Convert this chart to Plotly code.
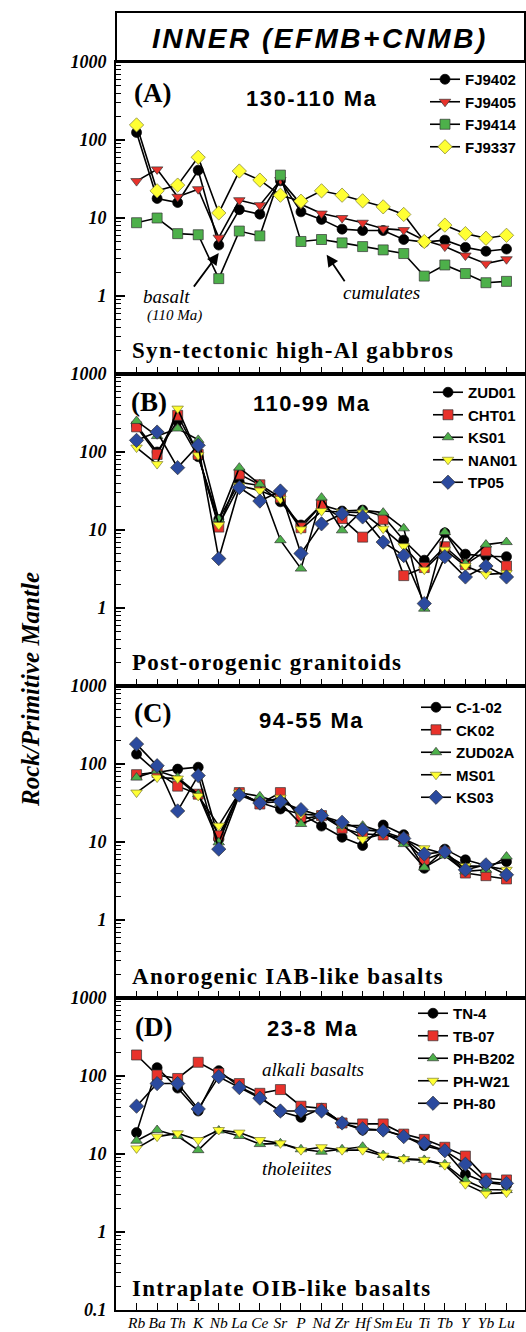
import plotly.graph_objects as go
from plotly.subplots import make_subplots

elements = ["Rb", "Ba", "Th", "K", "Nb", "La", "Ce", "Sr", "P", "Nd",
            "Zr", "Hf", "Sm", "Eu", "Ti", "Tb", "Y", "Yb", "Lu"]

# Panel A: 130-110 Ma, syn-tectonic high-Al gabbros
A_names = ["FJ9402", "FJ9405", "FJ9414", "FJ9337"]
FJ9402 = [125, 17.8, 15.8, 41, 4.5, 12.8, 11.2, 30, 12, 9.6, 7.2, 6.9, 6.9, 5.3, 4.9, 5.2, 4.2, 3.75, 4.0]
FJ9405 = [29.7, 42, 18.7, 23.4, 5.6, 16.9, 14.6, 30.6, 15, 11.4, 10, 8.7, 7.3, 7.0, 5.2, 4.3, 3.3, 2.6, 2.96]
FJ9414 = [8.7, 10, 6.3, 6.1, 1.67, 6.8, 5.9, 35.5, 5.0, 5.3, 4.8, 4.3, 3.9, 3.5, 1.8, 2.5, 1.94, 1.48, 1.54]
FJ9337 = [156, 22.3, 26.4, 60, 11.6, 40, 30.6, 19.6, 16.4, 22.3, 19.6, 16.6, 13.9, 11.1, 5.0, 8.1, 6.3, 5.5, 6.0]

# Panel B: 110-99 Ma, post-orogenic granitoids
B_names = ["ZUD01", "CHT01", "KS01", "NAN01", "TP05"]
ZUD01 = [220, 100, 250, 87, 13.7, 41, 37, 23, 11.6, 21, 17.5, 18, 15, 7.4, 4.1, 9.2, 4.9, 4.6, 4.55]
CHT01 = [210, 93, 295, 93, 10.9, 52, 38, 26, 10.7, 21, 14, 8.1, 13.7, 2.6, 3.3, 6.1, 3.6, 5.4, 3.45]
KS01 = [250, 160, 200, 143, 13.7, 63, 38.5, 7.4, 3.2, 26, 9.9, 18, 16.7, 10.5, 0.98, 9.4, 3.7, 6.5, 7.0]
NAN01 = [114, 70, 360, 91, 11.6, 37, 32, 25, 10.2, 17.5, 17, 16.7, 10.4, 6.2, 3.1, 5.6, 3.45, 2.7, 2.8]
TP05 = [141, 180, 63, 122, 4.3, 35, 23.5, 31.6, 5.0, 12, 16.2, 14.7, 7.0, 4.7, 1.14, 4.55, 2.5, 3.45, 2.5]

# Panel C: 94-55 Ma, anorogenic IAB-like basalts
C_names = ["C-1-02", "CK02", "ZUD02A", "MS01", "KS03"]
C102 = [134, 78, 86, 91, 10.9, 42, 32, 26.5, 22.8, 16, 11.5, 9.0, 16.5, 12.4, 4.6, 8.1, 5.9, 5.0, 5.6]
CK02 = [73, 78, 52, 41, 12, 43, 30.7, 43, 19.7, 21.8, 15, 12.7, 12.3, 10.9, 5.9, 7.4, 4.0, 3.7, 3.36]
ZUD02A = [67, 82, 67, 41, 9.9, 43, 38.5, 31.6, 17, 21.8, 16.2, 16.2, 13.3, 9.4, 4.7, 6.7, 4.2, 4.4, 6.5]
MS01 = [43, 67, 65, 39, 16.2, 43, 31.6, 37, 22.8, 21.8, 16.2, 10.9, 12.7, 10.9, 8.3, 7.0, 4.9, 4.9, 4.4]
KS03 = [180, 95, 25, 71, 8.1, 40, 31.6, 32.9, 26, 21.8, 17.9, 14.4, 13.6, 11.1, 7.0, 7.5, 4.4, 5.1, 3.8]

# Panel D: 23-8 Ma, intraplate OIB-like basalts
D_names = ["TN-4", "TB-07", "PH-B202", "PH-W21", "PH-80"]
TN4 = [18.8, 128, 70, 35.6, 117, 73, 54, 35, 29.5, 38.5, 25, 20.3, 20.3, 17, 12.8, 11, 5.5, 4.3, 4.0]
TB07 = [186, 103, 93, 150, 108, 80, 60, 67, 41, 38.5, 25, 24.3, 24.3, 18, 15.4, 12.2, 9.4, 4.9, 4.65]
PHB202 = [14.8, 20.3, 17, 11.2, 20, 17, 13.4, 13.7, 11.5, 10.7, 11.5, 12.4, 9.7, 8.6, 8.4, 7.4, 4.6, 3.5, 3.45]
PHW21 = [11.8, 16.7, 18.4, 15.1, 20.3, 18.8, 15.1, 13.7, 11.2, 12.2, 11.2, 11.2, 9.5, 8.6, 8.4, 7.2, 4.1, 3.1, 3.2]
PH80 = [41, 80, 80, 37.8, 98, 71, 52, 35.6, 35.6, 35.6, 25, 21, 20.3, 16.7, 13.7, 11, 7.4, 4.4, 4.2]

panel_letters = ["(A)", "(B)", "(C)", "(D)"]
panel_ages = ["130-110 Ma", "110-99 Ma", "94-55 Ma", "23-8 Ma"]
panel_types = ["Syn-tectonic high-Al gabbros", "Post-orogenic granitoids",
               "Anorogenic IAB-like basalts", "Intraplate OIB-like basalts"]

BLACK = "#000000"
RED = "#E8322B"
GREEN = "#4DB04A"
YELLOW = "#FFFF33"
BLUE = "#2B4A9E"

styleA = [("circle", BLACK), ("triangle-down", RED), ("square", GREEN), ("diamond", YELLOW)]
styleBCD = [("circle", BLACK), ("square", RED), ("triangle-up", GREEN),
            ("triangle-down", YELLOW), ("diamond", BLUE)]

panels = [
    (A_names, [FJ9402, FJ9405, FJ9414, FJ9337], styleA),
    (B_names, [ZUD01, CHT01, KS01, NAN01, TP05], styleBCD),
    (C_names, [C102, CK02, ZUD02A, MS01, KS03], styleBCD),
    (D_names, [TN4, TB07, PHB202, PHW21, PH80], styleBCD),
]

W, H = 526, 1332
L, R, T, B = 116, 525, 62, 1310


def px(xp, yp):
    return (xp - L) / (R - L), (B - yp) / (B - T)


def spaced(text, sp):
    return f'<span style="letter-spacing:{sp}px">{text}</span>'


SERIF = "Liberation Serif, Times New Roman, serif"
SANS = "Liberation Sans, Arial, sans-serif"

fig = make_subplots(rows=4, cols=1, shared_xaxes=True, vertical_spacing=0)

legend_pos = [(425, 63), (428, 376), (416, 691), (413, 997)]

for i, (names, series, styles) in enumerate(panels):
    lg = "legend" if i == 0 else f"legend{i + 1}"
    for name, vals, (sym, col) in zip(names, series, styles):
        outline = "#000000" if col == BLACK else ("#7a7a30" if col == YELLOW else "#333333")
        fig.add_trace(go.Scatter(
            x=elements, y=vals, name=name, mode="lines+markers",
            line=dict(color="black", width=1.6),
            marker=dict(symbol=sym, color=col, size=10 if sym != "diamond" else 11,
                        line=dict(color=outline, width=0.7)),
            legend=lg,
        ), row=i + 1, col=1)
    lx, ly = px(*legend_pos[i])
    fig.update_layout({lg: dict(
        x=lx, y=ly, xanchor="left", yanchor="top", bgcolor="rgba(0,0,0,0)",
        font=dict(family=SANS, size=15, color="black", weight="bold"),
        tracegroupgap=0, itemwidth=30)})

minor_vals = [m * 10 ** e for e in (-1, 0, 1, 2) for m in range(2, 10)]
for i in range(4):
    tv = [1, 10, 100, 1000]
    tt = ["1", "10", "100", "1000"]
    if i == 3:
        tv = [0.1] + tv
        tt = ["0.1"] + tt
    fig.update_yaxes(
        type="log", range=[-1, 3], tickvals=tv, ticktext=tt,
        ticks="inside", ticklen=9, tickwidth=1.5, tickcolor="black",
        minor=dict(ticks="inside", ticklen=5, tickwidth=1, tickcolor="black",
                   tickvals=minor_vals, showgrid=False),
        showline=True, linewidth=2, linecolor="black", mirror=True,
        showgrid=False, zeroline=False, ticklabelstandoff=4,
        tickfont=dict(family=SERIF, size=18, color="black", style="italic", weight="bold"),
        row=i + 1, col=1)
    fig.update_xaxes(
        type="category", categoryorder="array", categoryarray=elements,
        range=[-1, 18.9], ticks="inside", ticklen=7, tickwidth=1.2, tickcolor="black",
        showline=True, linewidth=2, linecolor="black", mirror=True,
        showgrid=False, zeroline=False, tickangle=0, ticklabelstandoff=-3,
        showticklabels=(i == 3),
        tickfont=dict(family=SERIF, size=15.5, color="black", style="italic"),
        row=i + 1, col=1)

annotations = []
letter_pos = [(152, 93), (149, 402), (152, 713), (153, 1027)]
age_pos = [(311, 98), (311, 403), (311, 720), (312, 1028)]
type_y = [351, 662, 976, 1288]
for i in range(4):
    x, y = px(*letter_pos[i])
    annotations.append(dict(x=x, y=y, xref="paper", yref="paper", text=panel_letters[i],
                            xanchor="center", yanchor="middle", showarrow=False,
                            font=dict(family=SERIF, size=27, color="black", weight="bold")))
    x, y = px(*age_pos[i])
    annotations.append(dict(x=x, y=y, xref="paper", yref="paper", text=spaced(panel_ages[i], 1.5),
                            xanchor="center", yanchor="middle", showarrow=False,
                            font=dict(family=SANS, size=22, color="black", weight="bold")))
    x, y = px(130, type_y[i])
    annotations.append(dict(x=x, y=y, xref="paper", yref="paper", text=spaced(panel_types[i], 1.3),
                            xanchor="left", yanchor="middle", showarrow=False,
                            font=dict(family=SERIF, size=23, color="black", weight="bold")))

# Title
x, y = px(320, 38)
annotations.append(dict(x=x, y=y, xref="paper", yref="paper", text=spaced("INNER (EFMB+CNMB)", 2.5),
                        xanchor="center", yanchor="middle", showarrow=False,
                        font=dict(family=SANS, size=28, color="black", weight="bold", style="italic")))
# Y axis title
x, y = px(30, 690)
annotations.append(dict(x=x, y=y, xref="paper", yref="paper", text="Rock/Primitive Mantle",
                        textangle=-90, xanchor="center", yanchor="middle", showarrow=False,
                        font=dict(family=SERIF, size=25, color="black", weight="bold", style="italic")))

ital = dict(family=SERIF, color="black", style="italic")
# Panel notes
annotations += [
    dict(x=1.47, y=0.0, xref="x", yref="y", text="basalt", showarrow=False, font=dict(size=19, **ital)),
    dict(x=1.85, y=-0.25, xref="x", yref="y", text="(110 Ma)", showarrow=False, font=dict(size=15, **ital)),
    dict(x=4, y=0.55, xref="x", yref="y", text="", showarrow=True, ax=-26, ay=35,
         arrowhead=2, arrowsize=1.3, arrowwidth=1.8, arrowcolor="black"),
    dict(x=11.9, y=0.04, xref="x", yref="y", text="cumulates", showarrow=False, font=dict(size=19, **ital)),
    dict(x=9.25, y=0.53, xref="x", yref="y", text="", showarrow=True, ax=19, ay=28,
         arrowhead=2, arrowsize=1.3, arrowwidth=1.8, arrowcolor="black"),
    dict(x=8.6, y=2.08, xref="x4", yref="y4", text="alkali basalts", showarrow=False, font=dict(size=19, **ital)),
    dict(x=7.8, y=0.82, xref="x4", yref="y4", text="tholeiites", showarrow=False, font=dict(size=19, **ital)),
]

fig.update_layout(
    width=W, height=H,
    margin=dict(l=L, r=W - R, t=T, b=H - B, autoexpand=False),
    paper_bgcolor="white", plot_bgcolor="white",
    annotations=annotations,
    shapes=[dict(type="rect", xref="paper", yref="paper", x0=0, x1=1, y0=1,
                 y1=(B - 12) / (B - T), line=dict(color="black", width=2))],
)

fig.write_html("out.html", config={"displayModeBar": False},
               post_script="document.body.style.margin='0';document.body.style.overflow='hidden';")
